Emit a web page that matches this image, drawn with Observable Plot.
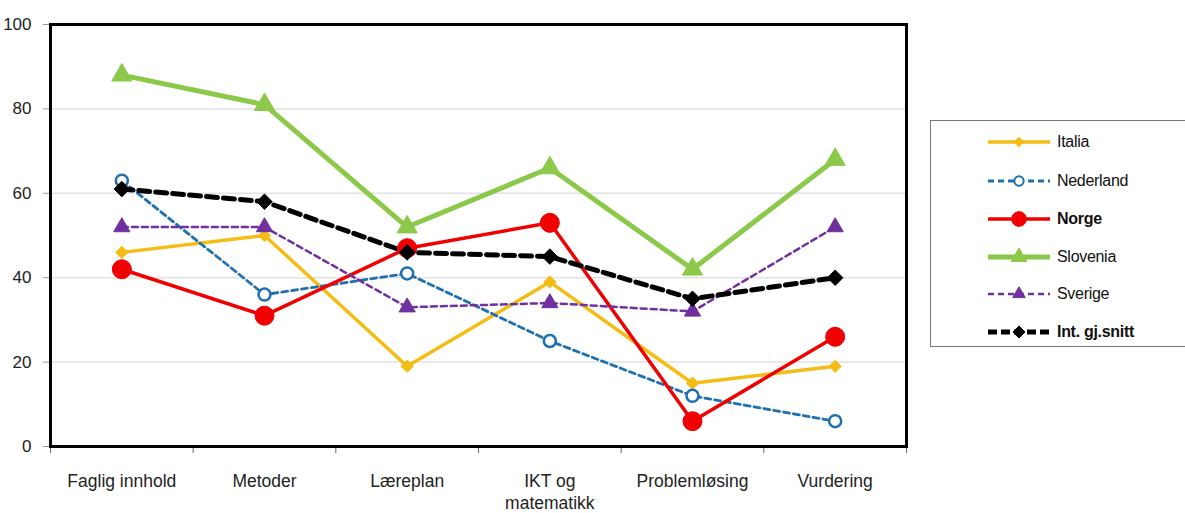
<!DOCTYPE html>
<html>
<head>
<meta charset="utf-8">
<script src="https://cdn.jsdelivr.net/npm/d3@7"></script>
<script src="https://cdn.jsdelivr.net/npm/@observablehq/plot@0.6"></script>
<style>
  html, body { margin: 0; padding: 0; background: #fff; }
  body { width: 1185px; height: 513px; position: relative; overflow: hidden; font-family: "Liberation Sans", Arial, sans-serif; }
  #chart { position: absolute; left: 0; top: 0; }
  #legend { position: absolute; left: 930px; top: 120px; width: 262px; height: 227px; border: 1px solid #777; box-sizing: border-box; background: #fff; }
  .row { position: absolute; left: 56px; height: 20px; display: flex; align-items: center; }
  .row span { font-size: 16px; color: #111; margin-left: 6px; letter-spacing: -0.3px; }
</style>
</head>
<body>
<div id="chart"></div>
<div id="legend"></div>
<script>
const categories = ["Faglig innhold", "Metoder", "Læreplan", "IKT og\nmatematikk", "Problemløsing", "Vurdering"];
const yTicks = [0, 20, 40, 60, 80, 100];
const gridValues = [20, 40, 60, 80];

const italia    = [46, 50, 19, 39, 15, 19];
const nederland = [63, 36, 41, 25, 12, 6];
const norge     = [42, 31, 47, 53, 6, 26];
const slovenia  = [88, 81, 52, 66, 42, 68];
const sverige   = [52, 52, 33, 34, 32, 52];
const snitt     = [61, 58, 46, 45, 35, 40];

const seriesNames = ["Italia", "Nederland", "Norge", "Slovenia", "Sverige", "Int. gj.snitt"];
const seriesValues = [italia, nederland, norge, slovenia, sverige, snitt];

const styles = {
  "Italia":        {color: "#F5BC14", width: 3.5, dash: null,   symbol: "diamond2", r: 5.5, fill: "#F5BC14", dotStroke: "#F5BC14", bold: false},
  "Nederland":     {color: "#1F70B0", width: 2.8, dash: "6,4",  symbol: "circle",   r: 6,   fill: "#fff",    dotStroke: "#1F70B0", bold: false},
  "Norge":         {color: "#F00000", width: 3.5, dash: null,   symbol: "circle",   r: 9.5, fill: "#F00000", dotStroke: "#F00000", bold: true},
  "Slovenia":      {color: "#8CC94A", width: 5,   dash: null,   symbol: "triangle", r: 7.5, fill: "#8CC94A", dotStroke: "#8CC94A", bold: false},
  "Sverige":       {color: "#7030A0", width: 2.5, dash: "6,4",  symbol: "triangle", r: 6,   fill: "#7030A0", dotStroke: "#7030A0", bold: false},
  "Int. gj.snitt": {color: "#000000", width: 5,   dash: "11,6", symbol: "diamond2", r: 7,   fill: "#000",    dotStroke: "#000", bold: true}
};

const rows = seriesNames.map((name, s) => seriesValues[s].map((v, i) => ({series: name, pos: i + 0.5, value: v})));

const marks = [
  Plot.ruleY(gridValues, {stroke: "#e2e2e2", strokeWidth: 1.5}),
  Plot.axisY({ticks: yTicks, tickSize: 7, tickPadding: 12, stroke: "#999", fill: "#222", fontSize: 17, label: null}),
  Plot.axisX({ticks: d3.range(0, categories.length + 1), tickSize: 7, tickFormat: () => "", stroke: "#666", label: null}),
  Plot.axisX({ticks: categories.map((_, i) => i + 0.5), tickSize: 0, tickPadding: 25, label: null,
    tickFormat: d => categories[Math.floor(d)], fontSize: 17.5, lineHeight: 1.25, fill: "#222"})
];
rows.forEach((data, s) => {
  const st = styles[seriesNames[s]];
  marks.push(Plot.line(data, {x: "pos", y: "value", stroke: st.color, strokeWidth: st.width,
    strokeDasharray: st.dash, strokeLinejoin: "round"}));
});
rows.forEach((data, s) => {
  const st = styles[seriesNames[s]];
  marks.push(Plot.dot(data, {x: "pos", y: "value", symbol: st.symbol, r: st.r, fill: st.fill,
    stroke: st.dotStroke, strokeWidth: seriesNames[s] === "Nederland" ? 2.5 : 1}));
});
marks.push(Plot.frame({stroke: "#000", strokeWidth: 3}));

const chart = Plot.plot({
  width: 920,
  height: 513,
  marginLeft: 50,
  marginRight: 14,
  marginTop: 24,
  marginBottom: 67,
  style: {fontFamily: "'Liberation Sans', Arial, sans-serif", background: "#fff"},
  x: {type: "linear", domain: [0, categories.length], axis: null},
  y: {domain: [0, 100], axis: null},
  marks
});
document.getElementById("chart").appendChild(chart);

// Legend
const legend = d3.select("#legend");
const rowTops = [11, 50, 88, 126, 163, 201];
seriesNames.forEach((name, s) => {
  const st = styles[name];
  const row = legend.append("div").attr("class", "row").style("top", rowTops[s] + "px");
  const svg = row.append("svg").attr("width", 64).attr("height", 20);
  svg.append("line").attr("x1", 1).attr("x2", 63).attr("y1", 10).attr("y2", 10)
    .attr("stroke", st.color).attr("stroke-width", st.width)
    .attr("stroke-dasharray", st.dash ? (name === "Int. gj.snitt" ? "9,4" : st.dash) : null);
  const size = Math.PI * st.r * st.r * 0.6;
  const symMap = {circle: d3.symbolCircle, triangle: d3.symbolTriangle, diamond2: d3.symbolDiamond2};
  svg.append("path").attr("transform", "translate(32,10)")
    .attr("d", d3.symbol(symMap[st.symbol], size)())
    .attr("fill", st.fill).attr("stroke", st.dotStroke).attr("stroke-width", name === "Nederland" ? 2 : 1);
  row.append("span").text(name).style("font-weight", st.bold ? "bold" : "normal");
});
</script>
</body>
</html>
